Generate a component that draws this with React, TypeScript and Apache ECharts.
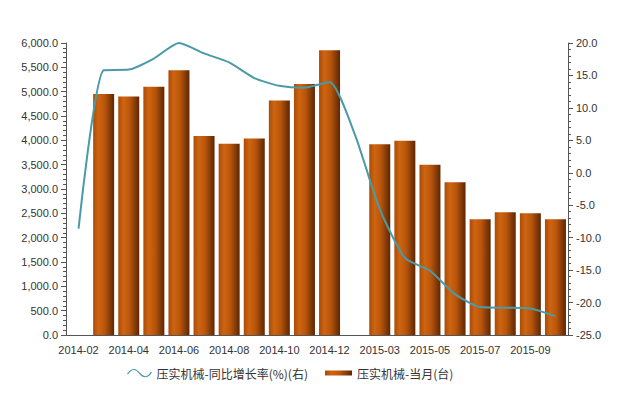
import React, { useEffect, useRef } from "react";
import * as echarts from "echarts";

const categories = [
  "2014-02", "2014-03", "2014-04", "2014-05", "2014-06", "2014-07", "2014-08",
  "2014-09", "2014-10", "2014-11", "2014-12", "2015-02", "2015-03", "2015-04",
  "2015-05", "2015-06", "2015-07", "2015-08", "2015-09", "2015-10",
];
const monthlyUnits = [
  null, 4950, 4900, 5100, 5440, 4090, 3930, 4040, 4820, 5160, 5850,
  null, 3920, 3990, 3500, 3140, 2380, 2520, 2500, 2380,
];
const yoyGrowth = [
  -8.6, 15.8, 15.9, 17.6, 20.0, 18.4, 17.0, 14.6, 13.4, 13.1, 14.0,
  6.0, -5.6, -13.1, -15.1, -18.7, -20.7, -20.8, -20.9, -22.1,
];
const lineName = "压实机械-同比增长率(%)(右)";
const barName = "压实机械-当月(台)";

export default function App() {
  const ref = useRef<HTMLDivElement>(null);
  useEffect(() => {
    if (!ref.current) return;
    const chart = echarts.init(ref.current, undefined, { renderer: "svg" });
    const axisColor = "#555";
    const labelStyle = { color: "#333", fontSize: 11, fontFamily: "Liberation Sans, Arial, sans-serif" };
    const barGradient = new echarts.graphic.LinearGradient(0, 0, 1, 0, [
      { offset: 0, color: "#a84c08" },
      { offset: 0.25, color: "#cf6410" },
      { offset: 0.55, color: "#b8560c" },
      { offset: 1, color: "#5e2604" },
    ]);
    chart.setOption({
      animation: false,
      backgroundColor: "#fff",
      grid: { left: 66, right: 57, top: 43, bottom: 62 },
      legend: [
        {
          left: 120,
          top: 362,
          itemWidth: 24,
          itemHeight: 10,
          itemGap: 8,
          textStyle: { color: "#333", fontSize: 12, fontFamily: "Noto Sans CJK SC" },
          data: [
            {
              name: lineName,
              icon: "path://M0,6 C4,0 8,0 12,5 C16,10 20,10 24,4",
              itemStyle: { color: "none", borderColor: "#4a9aa8", borderWidth: 1.2 },
            },
          ],
        },
        {
          left: 320,
          top: 362,
          itemWidth: 27,
          itemHeight: 5,
          textStyle: { color: "#333", fontSize: 12, fontFamily: "Noto Sans CJK SC" },
          data: [{ name: barName, icon: "rect" }],
        },
      ],
      xAxis: {
        type: "category",
        data: categories,
        boundaryGap: true,
        axisLine: { lineStyle: { color: axisColor } },
        axisTick: { alignWithLabel: true, interval: 0, length: 4, lineStyle: { color: axisColor } },
        axisLabel: { ...labelStyle, interval: 1, margin: 9 },
      },
      yAxis: [
        {
          type: "value",
          min: 0,
          max: 6000,
          interval: 500,
          axisLine: { show: true, lineStyle: { color: axisColor } },
          axisTick: { show: true, length: 5, lineStyle: { color: axisColor } },
          minorTick: { show: true, splitNumber: 5, length: 3, lineStyle: { color: axisColor } },
          splitLine: { show: false },
          axisLabel: {
            ...labelStyle,
            margin: 8,
            formatter: (v: number) =>
              v.toLocaleString("en-US", { minimumFractionDigits: 1, maximumFractionDigits: 1 }),
          },
        },
        {
          type: "value",
          min: -25,
          max: 20,
          interval: 5,
          position: "right",
          axisLine: { show: true, lineStyle: { color: axisColor } },
          axisTick: { show: true, length: 5, lineStyle: { color: axisColor } },
          minorTick: { show: true, splitNumber: 5, length: 3, lineStyle: { color: axisColor } },
          splitLine: { show: false },
          axisLabel: { ...labelStyle, margin: 8, formatter: (v: number) => v.toFixed(1) },
        },
      ],
      series: [
        {
          name: barName,
          type: "bar",
          yAxisIndex: 0,
          data: monthlyUnits,
          barWidth: 21,
          itemStyle: { color: barGradient },
        },
        {
          name: lineName,
          type: "line",
          yAxisIndex: 1,
          data: yoyGrowth,
          smooth: 0.2,
          showSymbol: false,
          symbol: "none",
          lineStyle: { color: "#4a9aa8", width: 2 },
          itemStyle: { color: "#4a9aa8" },
          z: 5,
        },
      ],
    });
    return () => chart.dispose();
  }, []);
  return <div ref={ref} style={{ width: 625, height: 397, position: "absolute", left: 0, top: 0 }} />;
}
